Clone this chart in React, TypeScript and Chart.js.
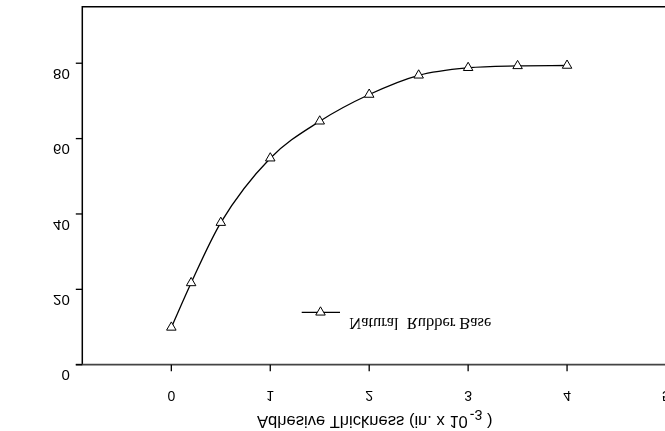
import React, { useEffect, useRef } from "react";
import { Chart, registerables } from "chart.js";

Chart.register(...registerables);

const thicknessValues = [0, 0.2, 0.5, 1, 1.5, 2, 2.5, 3, 3.5, 4];
const peelValues = [9.9, 21.7, 37.7, 54.8, 64.6, 71.7, 76.8, 78.8, 79.3, 79.4];
const yTickValues = [0, 20, 40, 60, 80];
const xTickValues = [0, 1, 2, 3, 4, 5];
const seriesName = "Natural  Rubber Base";
const xTitleMain = "Adhesive Thickness (in. x 10";
const xTitleSup = "-3";
const xTitleEnd = " )";

const SANS = "'Liberation Sans', Arial, sans-serif";
const SERIF = "'Liberation Serif', 'Times New Roman', serif";

function flipText(ctx: CanvasRenderingContext2D, text: string, x: number, y: number, align: CanvasTextAlign) {
  ctx.save();
  ctx.translate(x, y);
  ctx.scale(1, -1);
  ctx.textAlign = align;
  ctx.textBaseline = "middle";
  ctx.fillText(text, 0, 0);
  ctx.restore();
}

function fitFont(ctx: CanvasRenderingContext2D, text: string, family: string, target: number, base: number) {
  ctx.font = `${base}px ${family}`;
  const w = ctx.measureText(text).width;
  return Math.max(8, Math.min(22, (base * target) / w));
}

const decorPlugin = {
  id: "decor",
  afterDatasetsDraw(chart: any) {
    const ctx: CanvasRenderingContext2D = chart.ctx;
    const { left, top, bottom } = chart.chartArea;
    const xs = chart.scales.x;
    const ys = chart.scales.y;
    const W = chart.width;
    ctx.save();
    ctx.strokeStyle = "#000";
    ctx.fillStyle = "#000";
    ctx.lineWidth = 1.5;
    ctx.beginPath();
    ctx.moveTo(W, top);
    ctx.lineTo(left, top);
    ctx.lineTo(left, bottom);
    ctx.stroke();
    ctx.strokeStyle = "#444";
    ctx.lineWidth = 1.8;
    ctx.beginPath();
    ctx.moveTo(left - 6.5, bottom);
    ctx.lineTo(W, bottom);
    ctx.stroke();
    ctx.strokeStyle = "#000";
    ctx.lineWidth = 1.3;
    xTickValues.forEach((v) => {
      const px = xs.getPixelForValue(v);
      ctx.beginPath();
      ctx.moveTo(px, bottom);
      ctx.lineTo(px, bottom + 6.5);
      ctx.stroke();
    });
    yTickValues.forEach((v) => {
      const py = ys.getPixelForValue(v);
      ctx.beginPath();
      ctx.moveTo(left - 6.5, py);
      ctx.lineTo(left, py);
      ctx.stroke();
    });
    ctx.font = `15px ${SANS}`;
    yTickValues.forEach((v) => {
      const py = ys.getPixelForValue(v);
      flipText(ctx, String(v), left - 12.5, py + 9.8, "right");
    });
    ctx.font = `14px ${SANS}`;
    xTickValues.forEach((v) => {
      const px = xs.getPixelForValue(v);
      flipText(ctx, String(v), px, bottom + 30, "center");
    });
    const fs = fitFont(ctx, xTitleMain, SANS, 211, 14);
    ctx.font = `${fs}px ${SANS}`;
    const x0 = 257;
    const wMain = ctx.measureText(xTitleMain).width;
    flipText(ctx, xTitleMain, x0, bottom + 56, "left");
    ctx.font = `${fs * 0.85}px ${SANS}`;
    const wSup = ctx.measureText(xTitleSup).width;
    flipText(ctx, xTitleSup, x0 + wMain + 2, bottom + 49, "left");
    ctx.font = `${fs}px ${SANS}`;
    flipText(ctx, xTitleEnd, x0 + wMain + 2 + wSup, bottom + 56, "left");
    const ly = 312.3;
    ctx.lineWidth = 1.3;
    ctx.beginPath();
    ctx.moveTo(301.7, ly);
    ctx.lineTo(340, ly);
    ctx.stroke();
    ctx.restore();
    ctx.save();
    ctx.lineWidth = 1;
    ctx.strokeStyle = "#000";
    ctx.fillStyle = "#fff";
    const r = 5.5;
    ctx.beginPath();
    ctx.moveTo(320.5, ly - r);
    ctx.lineTo(320.5 + r * 0.866, ly + r * 0.5);
    ctx.lineTo(320.5 - r * 0.866, ly + r * 0.5);
    ctx.closePath();
    ctx.fill();
    ctx.stroke();
    ctx.fillStyle = "#000";
    const lfs = fitFont(ctx, seriesName, SERIF, 142, 15);
    ctx.font = `${lfs}px ${SERIF}`;
    flipText(ctx, seriesName, 349.3, 322, "left");
    ctx.restore();
  },
};

export default function App() {
  const ref = useRef<HTMLCanvasElement | null>(null);
  useEffect(() => {
    if (!ref.current) return;
    const chart = new Chart(ref.current, {
      type: "scatter",
      data: {
        datasets: [
          {
            label: seriesName,
            data: thicknessValues.map((x, i) => ({ x, y: peelValues[i] })),
            showLine: true,
            cubicInterpolationMode: "monotone",
            borderColor: "#000",
            borderWidth: 1.3,
            pointStyle: "triangle",
            pointRadius: 5.5,
            pointBackgroundColor: "#fff",
            pointBorderColor: "#000",
            pointBorderWidth: 1,
            clip: false,
          } as any,
        ],
      },
      options: {
        animation: false,
        responsive: false,
        devicePixelRatio: 1,
        layout: { autoPadding: false, padding: { left: 82.3, top: 6.7, right: 0, bottom: 431 - 364.7 } },
        plugins: { legend: { display: false }, tooltip: { enabled: false } },
        scales: {
          x: { type: "linear", display: false, min: -0.9, max: 4.99 },
          y: { type: "linear", display: false, min: 0, max: 95 },
        },
      },
      plugins: [decorPlugin],
    });
    return () => chart.destroy();
  }, []);
  return (
    <div style={{ position: "fixed", left: 0, top: 0, width: 665, height: 431, overflow: "hidden", background: "#fff" }}>
      <canvas ref={ref} width={665} height={431} style={{ display: "block" }} />
    </div>
  );
}
